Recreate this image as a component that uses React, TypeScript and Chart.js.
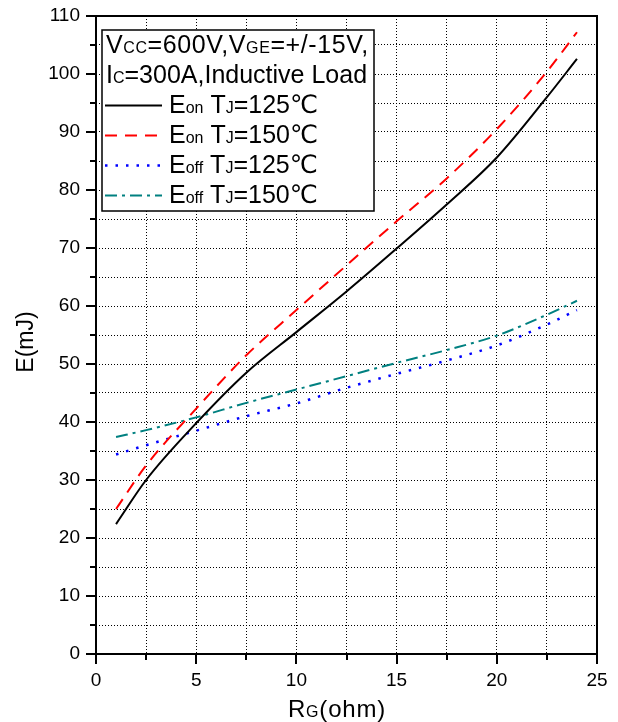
import React, { useEffect, useRef } from 'react';
import { Chart, registerables } from 'chart.js';

Chart.register(...registerables);

// ---- data ----
const rgOhm = [1, 2.5, 5, 7.5, 10, 12.5, 15, 17.5, 20, 22.5, 24];
const eonTj125 = [22.4, 30.0, 39.8, 48.5, 55.5, 62.5, 69.9, 77.5, 85.6, 96.0, 102.6];
const eonTj150 = [25.0, 32.5, 42.3, 51.5, 59.3, 67.0, 74.6, 82.0, 90.5, 100.4, 107.2];
const eoffTj125 = [34.4, 36.0, 38.5, 41.0, 43.2, 45.9, 48.3, 50.6, 53.2, 56.8, 59.3];
const eoffTj150 = [37.4, 38.6, 40.8, 43.3, 45.6, 47.9, 50.2, 52.4, 54.9, 58.5, 60.9];

const seriesLabels = ['Eon TJ=125℃', 'Eon TJ=150℃', 'Eoff TJ=125℃', 'Eoff TJ=150℃'];
// rich-text pieces: b = normal size, s = subscript-like small size
const legendParts: [string, string][][] = [
  [['E', 'b'], ['on', 's'], [' T', 'b'], ['J', 's'], ['=125℃', 'b']],
  [['E', 'b'], ['on', 's'], [' T', 'b'], ['J', 's'], ['=150℃', 'b']],
  [['E', 'b'], ['off', 's'], [' T', 'b'], ['J', 's'], ['=125℃', 'b']],
  [['E', 'b'], ['off', 's'], [' T', 'b'], ['J', 's'], ['=150℃', 'b']],
];
const headerParts: [string, string][][] = [
  [['V', 'b'], ['CC', 's'], ['=600V,', 'b'], ['V', 'b'], ['GE', 's'], ['=+/-15V,', 'b']],
  [['I', 'b'], ['C', 's'], ['=300A,Inductive Load', 'b']],
];
const xTitleParts: [string, string][] = [['R', 'b'], ['G', 's'], ['(ohm)', 'b']];
const yTitle = 'E(mJ)';

const xMin = 0, xMax = 25, xStep = 2.5, xLabelEvery = 5;
const yMin = 0, yMax = 110, yStep = 5, yLabelEvery = 10;

const FAM = '"Liberation Sans", Arial, "DejaVu Sans", "Noto Sans CJK SC", sans-serif';

function drawParts(ctx: CanvasRenderingContext2D, parts: [string, string][], x: number, y: number, big: number, small: number) {
  let cx = x;
  for (const [t, k] of parts) {
    ctx.font = `${k === 's' ? small : big}px ${FAM}`;
    ctx.fillText(t, cx, y);
    cx += ctx.measureText(t).width;
  }
  return cx - x;
}
function measureParts(ctx: CanvasRenderingContext2D, parts: [string, string][], big: number, small: number) {
  let w = 0;
  for (const [t, k] of parts) {
    ctx.font = `${k === 's' ? small : big}px ${FAM}`;
    w += ctx.measureText(t).width;
  }
  return w;
}

const decor = {
  id: 'decor',
  afterDraw(chart: any) {
    const { ctx, chartArea: a, scales } = chart;
    const xs = scales.x, ys = scales.y;
    ctx.save();
    ctx.setLineDash([]);
    ctx.strokeStyle = '#000';
    ctx.lineWidth = 2;
    // tick marks
    ctx.beginPath();
    xs.ticks.forEach((t: any) => {
      const p = Math.round(xs.getPixelForValue(t.value));
      const len = t.value % xLabelEvery === 0 ? 10 : 6;
      ctx.moveTo(p, a.bottom);
      ctx.lineTo(p, a.bottom + len);
    });
    ys.ticks.forEach((t: any) => {
      const p = Math.round(ys.getPixelForValue(t.value));
      const len = t.value % yLabelEvery === 0 ? 10 : 6;
      ctx.moveTo(a.left - len, p);
      ctx.lineTo(a.left, p);
    });
    ctx.stroke();
    // frame
    ctx.strokeRect(a.left, a.top, a.right - a.left, a.bottom - a.top);

    const c2: any = ctx;
    ctx.fillStyle = '#000';
    ctx.textBaseline = 'alphabetic';
    ctx.textAlign = 'left';
    // x title
    c2.letterSpacing = '0.8px';
    const xw = measureParts(ctx, xTitleParts, 24, 16);
    drawParts(ctx, xTitleParts, 337 - xw / 2, 717, 24, 16);
    c2.letterSpacing = '0px';
    // y title
    ctx.save();
    ctx.translate(33, 342);
    ctx.rotate(-Math.PI / 2);
    ctx.textAlign = 'center';
    ctx.font = `23px ${FAM}`;
    ctx.fillText(yTitle, 0, 0);
    ctx.restore();

    // legend box
    const bx = 102, by = 30, bw = 272, bh = 181;
    ctx.fillStyle = '#fff';
    ctx.fillRect(bx, by, bw, bh);
    ctx.lineWidth = 1.5;
    ctx.strokeStyle = '#000';
    ctx.strokeRect(bx, by, bw, bh);
    ctx.fillStyle = '#000';
    c2.letterSpacing = '0.6px';
    drawParts(ctx, headerParts[0], 106, 53, 25, 16);
    c2.letterSpacing = '0px';
    drawParts(ctx, headerParts[1], 106, 83, 25, 16);
    chart.data.datasets.forEach((ds: any, i: number) => {
      const base = 113 + i * 30;
      const ly = base - 7.5;
      ctx.save();
      ctx.strokeStyle = ds.borderColor;
      ctx.lineWidth = ds.borderWidth;
      ctx.setLineDash(ds.borderDash || []);
      ctx.beginPath();
      ctx.moveTo(105, ly);
      ctx.lineTo(162, ly);
      ctx.stroke();
      ctx.restore();
      ctx.fillStyle = '#000';
      drawParts(ctx, legendParts[i], 169, base, 25, 16);
    });
    ctx.restore();
  },
};

export default function App() {
  const ref = useRef<HTMLCanvasElement>(null);
  useEffect(() => {
    const canvas = ref.current;
    if (!canvas) return;
    const mk = (vals: number[]) => rgOhm.map((x, i) => ({ x, y: vals[i] }));
    const common = { pointRadius: 0, fill: false, cubicInterpolationMode: 'monotone' as const, borderCapStyle: 'butt' as const };
    const tickFont = { family: FAM, size: 19 };
    const chart = new Chart(canvas, {
      type: 'line',
      data: {
        datasets: [
          { ...common, label: seriesLabels[0], data: mk(eonTj125), borderColor: '#000000', borderWidth: 2, borderDash: [] },
          { ...common, label: seriesLabels[1], data: mk(eonTj150), borderColor: '#ff0000', borderWidth: 2, borderDash: [12, 8] },
          { ...common, label: seriesLabels[2], data: mk(eoffTj125), borderColor: '#0000ff', borderWidth: 2.5, borderDash: [2.5, 8] },
          { ...common, label: seriesLabels[3], data: mk(eoffTj150), borderColor: '#008080', borderWidth: 2, borderDash: [12, 5, 3, 5] },
        ],
      },
      options: {
        animation: false,
        responsive: true,
        maintainAspectRatio: false,
        layout: { autoPadding: false, padding: { top: 16, right: 21, left: 0, bottom: 0 } },
        plugins: { legend: { display: false }, tooltip: { enabled: false } },
        scales: {
          x: {
            type: 'linear',
            min: xMin,
            max: xMax,
            afterFit: (s: any) => { s.height = 68; s.paddingLeft = 0; s.paddingRight = 0; s.paddingTop = 0; s.paddingBottom = 0; },
            ticks: {
              stepSize: xStep,
              autoSkip: false,
              maxRotation: 0,
              minRotation: 0,
              padding: 15,
              color: '#000',
              font: tickFont,
              callback: (v: any) => (Number(v) % xLabelEvery === 0 ? String(v) : ''),
            },
            grid: { color: '#000', lineWidth: 1, drawTicks: false },
            border: { display: false, dash: [1, 2] },
          },
          y: {
            type: 'linear',
            min: yMin,
            max: yMax,
            afterFit: (s: any) => { s.width = 96; s.paddingLeft = 0; s.paddingRight = 0; s.paddingTop = 0; s.paddingBottom = 0; },
            ticks: {
              stepSize: yStep,
              autoSkip: false,
              padding: 16,
              color: '#000',
              font: tickFont,
              callback: (v: any) => (Number(v) % yLabelEvery === 0 ? String(v) : ''),
            },
            grid: { color: '#000', lineWidth: 1, drawTicks: false },
            border: { display: false, dash: [1, 2] },
          },
        },
      },
      plugins: [decor],
    });
    return () => chart.destroy();
  }, []);
  return (
    <div style={{ position: 'fixed', left: 0, top: 0, width: 618, height: 722, background: '#fff' }}>
      <canvas ref={ref} />
    </div>
  );
}
